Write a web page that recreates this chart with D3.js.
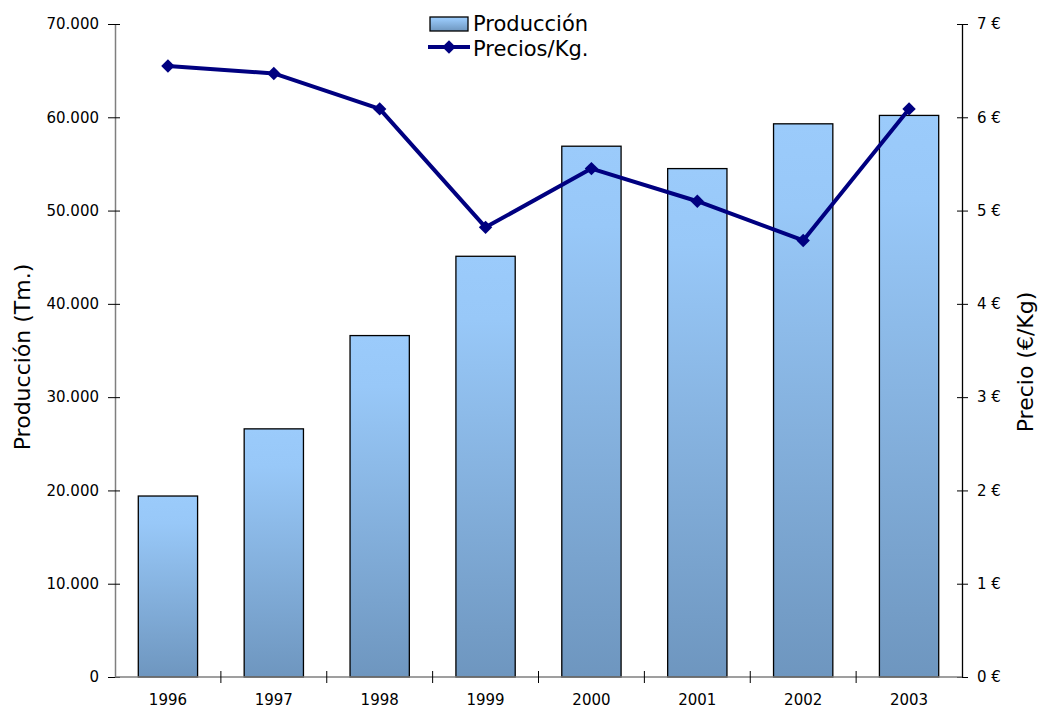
<!DOCTYPE html>
<html><head><meta charset="utf-8">
<script src="https://cdn.jsdelivr.net/npm/d3@7"></script>
<style>body{margin:0;background:#fff}svg{display:block}text{font-family:"DejaVu Sans",Verdana,sans-serif;fill:#000}</style>
</head><body><svg id="c" width="1040" height="711"></svg>
<script>
const years = ["1996","1997","1998","1999","2000","2001","2002","2003"];
const produccion = [19400, 26600, 36600, 45100, 56900, 54500, 59300, 60200];
const precios = [6.55, 6.47, 6.09, 4.82, 5.45, 5.10, 4.68, 6.09];
const leftTicks = [0,10000,20000,30000,40000,50000,60000,70000];
const rightTicks = [0,1,2,3,4,5,6,7];

const svg = d3.select("#c");
const L = 115, R = 962, T = 24, B = 677;
const x = d3.scaleBand().domain(years).range([L, R]).paddingInner(0.44).paddingOuter(0.22);
const xb = d3.scaleBand().domain(years).range([L, R]);
const yL = d3.scaleLinear().domain([0,70000]).range([B, T]);
const yR = d3.scaleLinear().domain([0,7]).range([B, T]);

const defs = svg.append("defs");
const g = defs.append("linearGradient").attr("id","bg").attr("x1",0).attr("y1",0).attr("x2",0).attr("y2",1);
g.append("stop").attr("offset","0%").attr("stop-color","#9BCBFB");
g.append("stop").attr("offset","15%").attr("stop-color","#98C8F8");
g.append("stop").attr("offset","100%").attr("stop-color","#6E96BF");

// bars
svg.append("g").selectAll("rect").data(produccion).join("rect")
  .attr("x",(d,i)=>x(years[i])).attr("width",x.bandwidth())
  .attr("y",d=>yL(d)).attr("height",d=>B-yL(d))
  .attr("fill","url(#bg)").attr("stroke","#000").attr("stroke-width",1.3);

const fmt = d => d===0 ? "0" : d3.format(",")(d).replace(/,/g,".");
// left axis
const la = svg.append("g").attr("transform",`translate(${L},0)`)
  .call(d3.axisLeft(yL).tickValues(leftTicks).tickFormat(fmt).tickSizeInner(7).tickSizeOuter(0).tickPadding(9));
la.selectAll(".tick line").attr("x2",5).attr("x1",-7).attr("stroke","#000");
la.select(".domain").attr("stroke","#7f7f7f").attr("stroke-width",1.5);
la.selectAll("text").style("font-size","15px").attr("font-family",null);

// right axis
const ra = svg.append("g").attr("transform",`translate(${R},0)`)
  .call(d3.axisRight(yR).tickValues(rightTicks).tickFormat(d=>d+" €").tickSizeInner(6).tickSizeOuter(0).tickPadding(9));
ra.selectAll(".tick line").attr("x1",-5).attr("x2",6).attr("stroke","#000");
ra.select(".domain").attr("stroke","#000").attr("stroke-width",1.3);
ra.selectAll("text").style("font-size","15px").attr("font-family",null);

// bottom axis
const ba = svg.append("g").attr("transform",`translate(0,${B})`);
ba.append("line").attr("x1",L).attr("x2",R).attr("stroke","#7f7f7f").attr("stroke-width",1.5);
ba.selectAll("line.tk").data(years.slice(1)).join("line").attr("class","tk")
  .attr("x1",d=>xb(d)).attr("x2",d=>xb(d)).attr("y1",-6).attr("y2",6).attr("stroke","#000");
ba.selectAll("text").data(years).join("text")
  .attr("x",d=>xb(d)+xb.bandwidth()/2).attr("y",28).attr("text-anchor","middle")
  .style("font-size","15px").text(d=>d);

// line
const line = d3.line().x((d,i)=>xb(years[i])+xb.bandwidth()/2).y(d=>yR(d));
svg.append("path").datum(precios).attr("d",line).attr("fill","none")
  .attr("stroke","#000080").attr("stroke-width",4).attr("stroke-linejoin","round");
const diamond = d3.symbol().type(d3.symbolDiamond2).size(115);
svg.append("g").selectAll("path").data(precios).join("path")
  .attr("d",diamond).attr("transform",(d,i)=>`translate(${xb(years[i])+xb.bandwidth()/2},${yR(d)})`)
  .attr("fill","#000080");

// axis titles
svg.append("text").attr("transform","translate(30,357) rotate(-90)").attr("text-anchor","middle")
  .style("font-size","22px").text("Producción (Tm.)");
svg.append("text").attr("transform","translate(1033,362) rotate(-90)").attr("text-anchor","middle")
  .style("font-size","22px").text("Precio (€/Kg)");

// legend
const lg = svg.append("g");
lg.append("rect").attr("x",430).attr("y",17).attr("width",38).attr("height",14)
  .attr("fill","url(#bg)").attr("stroke","#000").attr("stroke-width",1.3);
lg.append("text").attr("x",473).attr("y",31).style("font-size","21px").text("Producción");
lg.append("line").attr("x1",428).attr("x2",470).attr("y1",47).attr("y2",47).attr("stroke","#000080").attr("stroke-width",4);
lg.append("path").attr("d",diamond).attr("transform","translate(449,47)").attr("fill","#000080");
lg.append("text").attr("x",473).attr("y",56).style("font-size","21px").text("Precios/Kg.");
</script></body></html>
